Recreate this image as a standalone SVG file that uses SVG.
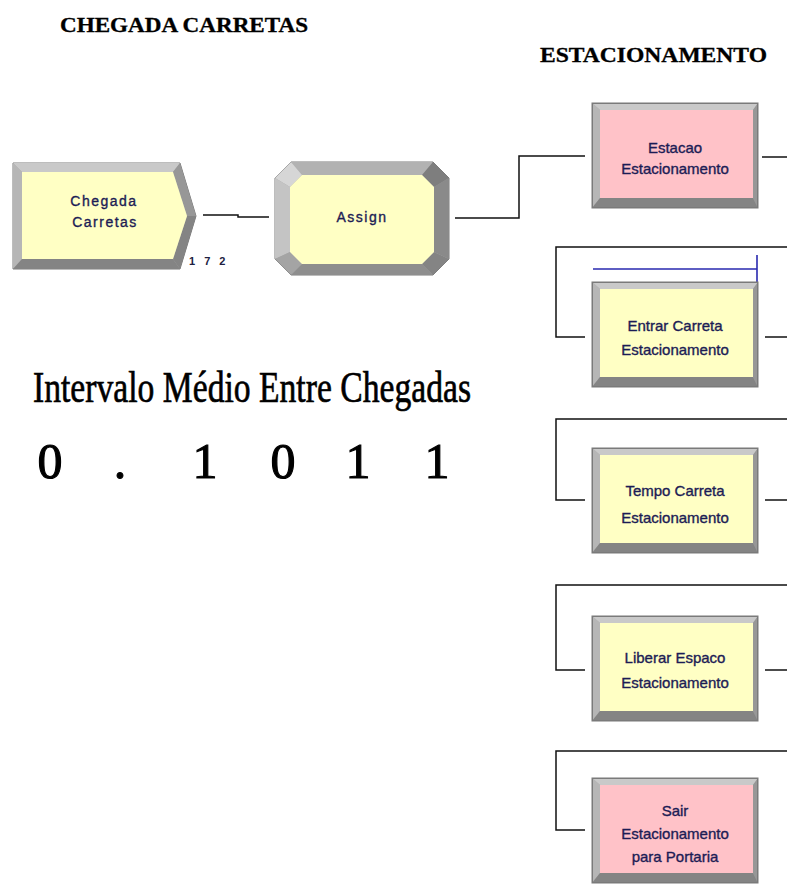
<svg xmlns="http://www.w3.org/2000/svg" xmlns:xlink="http://www.w3.org/1999/xlink" width="787" height="884" viewBox="0 0 787 884">
  <style>
    .title { font-family: "Liberation Serif", "Times New Roman", serif; font-weight: bold; font-size: 20px; fill: #000; stroke: #000; stroke-width: 0.3; }
    .big { font-family: "Liberation Serif", "Times New Roman", serif; font-size: 45px; fill: #000; stroke: #000; stroke-width: 0.7; }
    .digit { font-family: "Liberation Serif", "Times New Roman", serif; font-size: 50px; fill: #000; stroke: #000; stroke-width: 1.1; text-anchor: middle; }
    .lbl { font-family: "Liberation Sans", Arial, sans-serif; font-size: 15px; fill: #1c1c55; stroke: #1c1c55; stroke-width: 0.35; text-anchor: middle; dominant-baseline: central; }
    .lbl-wide { font-family: "Liberation Sans", Arial, sans-serif; font-size: 14px; fill: #1c1c55; stroke: #1c1c55; stroke-width: 0.35; text-anchor: middle; dominant-baseline: central; letter-spacing: 1.5px; }
    .count { font-family: "Liberation Sans Narrow", "Liberation Sans", Arial, sans-serif; font-weight: bold; font-size: 11px; fill: #202040; }
    .edge { fill: none; stroke: #111; stroke-width: 1.5; }
    .queue { fill: none; stroke: #2a2ab0; stroke-width: 1.6; }
    .outline { stroke: #7a7a7a; stroke-width: 1; }
    .b-top { fill: #c9c9c9; }
    .b-left { fill: #b6b6b6; }
    .b-right { fill: #979797; }
    .b-bottom { fill: #848484; }
    .b-light { fill: #d6d6d6; }
    .yellow { fill: #ffffc4; }
    .pink { fill: #ffc2c8; }
  </style>

  <defs>
    <!-- bevelled frame of a 166 x 105 process block -->
    <g id="frame">
      <rect x="0" y="0" width="166" height="105" fill="#a8a8a8" class="outline"/>
      <polygon class="b-top" points="0,0 166,0 161,7 8,7"/>
      <polygon class="b-left" points="0,0 8,7 8,95 0,105"/>
      <polygon class="b-right" points="166,0 166,105 161,95 161,7"/>
      <polygon class="b-bottom" points="0,105 166,105 161,95 8,95"/>
      <rect x="0.5" y="0.5" width="165" height="104" fill="none" class="outline"/>
    </g>
  </defs>

  <!-- section headings and the arrival-interval readout -->
  <text class="title" x="60" y="32" textLength="248" lengthAdjust="spacingAndGlyphs">CHEGADA CARRETAS</text>
  <text class="title" x="540" y="62" textLength="227" lengthAdjust="spacingAndGlyphs">ESTACIONAMENTO</text>
  <text class="big" x="33" y="402" textLength="438" lengthAdjust="spacingAndGlyphs">Intervalo Médio Entre Chegadas</text>
  <g id="readout">
    <text class="digit" x="50" y="478">0</text>
    <text class="digit" x="120" y="478">.</text>
    <text class="digit" x="205" y="478">1</text>
    <text class="digit" x="283" y="478">0</text>
    <text class="digit" x="358" y="478">1</text>
    <text class="digit" x="437" y="478">1</text>
  </g>

  <!-- connectors -->
  <g id="connectors">
    <path class="edge" d="M203 215 H238 V217 H269"/>
    <path class="edge" d="M455 218 H519 V156 H585"/>
    <path class="edge" d="M762 157 H787"/>
    <path class="edge" d="M787 247 H556 V337 H585"/>
    <path class="edge" d="M765 337 H787"/>
    <path class="edge" d="M787 419 H556 V500 H585"/>
    <path class="edge" d="M765 500 H787"/>
    <path class="edge" d="M787 585 H556 V670 H585"/>
    <path class="edge" d="M765 670 H787"/>
    <path class="edge" d="M787 751 H556 V830 H585"/>
  </g>

  <!-- Create block -->
  <g id="chegada-carretas">
    <polygon points="13,163 180,163 196,216 180,269 13,269" fill="#a8a8a8" class="outline"/>
    <polygon class="b-top" points="13,163 180,163 173,172 22,172"/>
    <polygon class="b-left" points="13,163 22,172 22,259 13,269"/>
    <polygon class="b-right" points="180,163 196,216 187,216 173,172"/>
    <polygon class="b-bottom" points="196,216 180,269 173,259 187,216"/>
    <polygon class="b-bottom" points="13,269 180,269 173,259 22,259"/>
    <polygon class="yellow" points="22,172 173,172 187,216 173,259 22,259"/>
    <text class="lbl-wide" x="104" y="201">Chegada</text>
    <text class="lbl-wide" x="105" y="222">Carretas</text>
    <text class="count" x="189" y="265" letter-spacing="3">1 7 2</text>
  </g>

  <!-- Assign block -->
  <g id="assign">
    <polygon points="291,162 433,162 449,178 449,259 433,275 291,275 275,259 275,178" fill="#a8a8a8" class="outline"/>
    <polygon points="291,162 433,162 422,175 302,175" style="fill:#b2b2b2"/>
    <polygon class="b-light" points="275,178 291,162 302,175 290,187"/>
    <polygon points="275,178 290,187 290,252 275,259" style="fill:#c4c4c4"/>
    <polygon points="275,259 290,252 302,264 291,275" style="fill:#a4a4a4"/>
    <polygon points="291,275 302,264 422,264 433,275" style="fill:#8e8e8e"/>
    <polygon class="b-bottom" points="433,275 422,264 434,252 449,259"/>
    <polygon points="449,259 434,252 434,187 449,178" style="fill:#8a8a8a"/>
    <polygon points="449,178 434,187 422,175 433,162" style="fill:#7e7e7e"/>
    <polygon class="yellow" points="302,175 422,175 434,187 434,252 422,264 302,264 290,252 290,187"/>
    <text class="lbl-wide" x="362" y="217">Assign</text>
  </g>

  <!-- Station block -->
  <g id="estacao-estacionamento" transform="translate(592,103)">
    <use xlink:href="#frame"/>
    <rect class="pink" x="8" y="7" width="153" height="88"/>
    <text class="lbl" x="83" y="44">Estacao</text>
    <text class="lbl" x="83" y="65">Estacionamento</text>
  </g>

  <!-- queue line above the seize block -->
  <g id="fila-entrar">
    <path class="queue" d="M593 269 H757 M757 255 V282"/>
  </g>

  <g id="entrar-carreta" transform="translate(592,282)">
    <use xlink:href="#frame"/>
    <rect class="yellow" x="8" y="7" width="153" height="88"/>
    <text class="lbl" x="83" y="43">Entrar Carreta</text>
    <text class="lbl" x="83" y="67">Estacionamento</text>
  </g>

  <g id="tempo-carreta" transform="translate(592,448)">
    <use xlink:href="#frame"/>
    <rect class="yellow" x="8" y="7" width="153" height="88"/>
    <text class="lbl" x="83" y="42">Tempo Carreta</text>
    <text class="lbl" x="83" y="69">Estacionamento</text>
  </g>

  <g id="liberar-espaco" transform="translate(592,616)">
    <use xlink:href="#frame"/>
    <rect class="yellow" x="8" y="7" width="153" height="88"/>
    <text class="lbl" x="83" y="41">Liberar Espaco</text>
    <text class="lbl" x="83" y="66">Estacionamento</text>
  </g>

  <g id="sair-estacionamento" transform="translate(592,778)">
    <use xlink:href="#frame"/>
    <rect class="pink" x="8" y="7" width="153" height="88"/>
    <text class="lbl" x="83" y="32">Sair</text>
    <text class="lbl" x="83" y="55">Estacionamento</text>
    <text class="lbl" x="83" y="78">para Portaria</text>
  </g>
</svg>
